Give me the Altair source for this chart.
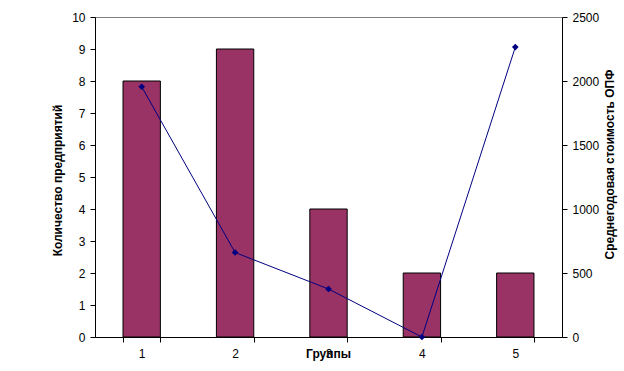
import altair as alt
import pandas as pd

groups = ["1", "2", "3", "4", "5"]
companies = [8, 9, 4, 2, 2]
avg_cost = [1955, 660, 375, 0, 2265]

df = pd.DataFrame({"group": groups, "companies": companies, "cost": avg_cost})

FONT = "Liberation Sans"

x_enc = alt.X(
    "group:N",
    sort=groups,
    scale=alt.Scale(paddingInner=0.6, paddingOuter=0.3),
    axis=alt.Axis(
        title="Группы",
        labelAngle=0,
        tickBand="extent",
        tickSize=5,
        labelPadding=6,
        titleX=233,
        titleY=16,
        titleBaseline="middle",
        titleFontWeight="bold",
    ),
)

bars = alt.Chart(df).mark_bar(color="#993366", stroke="black", strokeWidth=1).encode(
    x=x_enc,
    y=alt.Y(
        "companies:Q",
        scale=alt.Scale(domain=[0, 10], nice=False),
        axis=alt.Axis(
            title="Количество предприятий",
            values=list(range(0, 11)),
            tickSize=5,
            labelPadding=5,
            titleAngle=270,
            titleX=-38,
            titleY=163,
            titleAlign="center",
            titleBaseline="middle",
        ),
    ),
)

line = alt.Chart(df).mark_line(
    color="#000080", strokeWidth=1,
    point=alt.OverlayMarkDef(shape="diamond", filled=True, color="#000080", size=45),
).encode(
    x=alt.X("group:N", sort=groups),
    y=alt.Y(
        "cost:Q",
        scale=alt.Scale(domain=[0, 2500], nice=False),
        axis=alt.Axis(
            title="Среднегодовая стоимость ОПФ",
            orient="right",
            values=[0, 500, 1000, 1500, 2000, 2500],
            format="d",
            tickSize=5,
            labelPadding=5,
            titleAngle=270,
            titleX=47,
            titleY=147,
            titleAlign="center",
            titleBaseline="middle",
        ),
    ),
)

chart = (
    alt.layer(bars, line)
    .resolve_scale(y="independent")
    .properties(
        width=467,
        height=320,
        autosize=alt.AutoSizeParams(type="none"),
        padding={"left": 95, "top": 17, "right": 62, "bottom": 34},
        background="white",
    )
    .configure_view(stroke="#808080", strokeWidth=1)
    .configure_axis(
        grid=False,
        domainColor="black",
        tickColor="black",
        labelFont=FONT,
        labelFontSize=12,
        labelColor="black",
        titleFont=FONT,
        titleFontSize=12,
        titleFontWeight="bold",
        titleColor="black",
        domainWidth=1,
        tickWidth=1,
    )
)

chart.save("out.html", embed_options={"renderer": "svg", "actions": False})
